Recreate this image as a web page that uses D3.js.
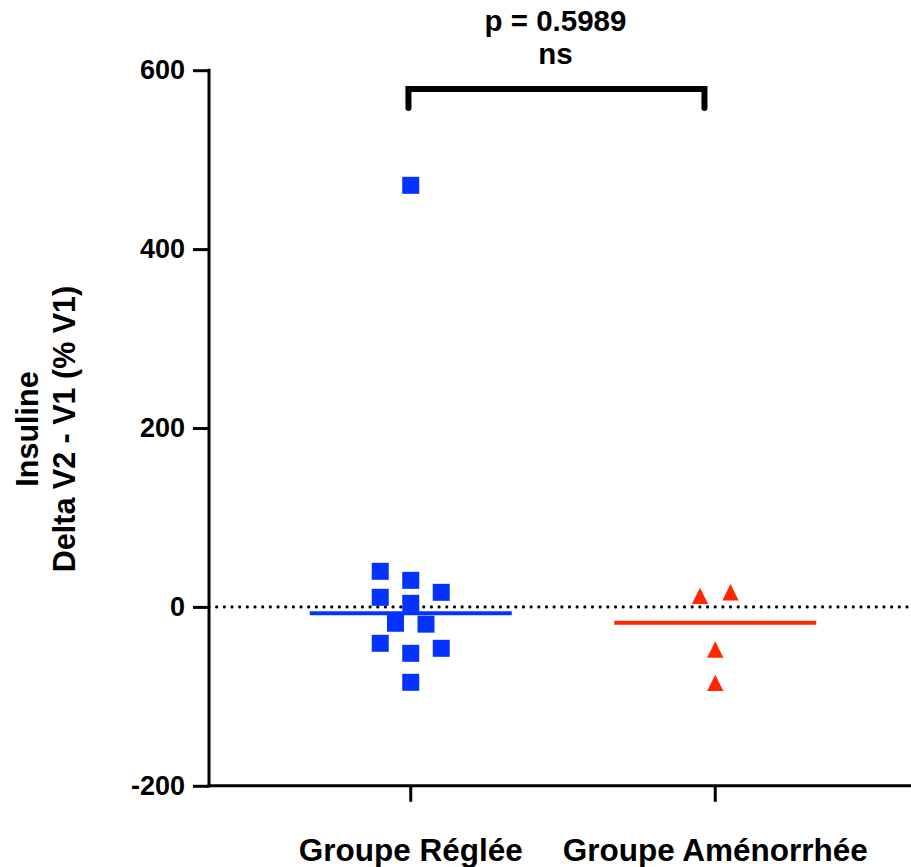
<!DOCTYPE html>
<html>
<head>
<meta charset="utf-8">
<script src="https://cdn.jsdelivr.net/npm/d3@7"></script>
<style>
  html, body { margin: 0; padding: 0; background: #fff; }
  svg { display: block; }
  text { font-family: "Liberation Sans", Arial, Helvetica, sans-serif; font-weight: bold; fill: #000; }
</style>
</head>
<body>
<svg id="chart" width="911" height="867"></svg>
<script>
// Insulin change between visits, % of V1, per group
const categories = ["Groupe Réglée", "Groupe Aménorrhée"];
const regleeValues = [29.7, 4.0, -51.9, -84.3, -18.3, -19.3, 39.8, 16.3, 10.7, -40.7, -46.3, 471.3];
const amenorrheeValues = [16.4, 12.4, -47.6, -84.9];
const yTicks = [-200, 0, 200, 400, 600];
const pValue = 0.5989;
const significance = "ns";
const yLabelLines = ["Insuline", "Delta V2 - V1 (% V1)"];

const groups = [
  { name: categories[0], values: regleeValues, color: "#0433ff", shape: "square" },
  { name: categories[1], values: amenorrheeValues, color: "#ff2600", shape: "triangle" }
];

const W = 911, H = 867;
const axisLeft = 209, plotTop = 70.2, plotBottom = 785.8;

const svg = d3.select("#chart");

const y = d3.scaleLinear().domain([-200, 600]).range([plotBottom, plotTop]);
const x = d3.scaleBand().domain(categories).range([258.5, 867.5]);
const cx = c => x(c) + x.bandwidth() / 2;

// Zero reference line (dotted)
svg.append("line")
  .attr("x1", axisLeft).attr("x2", W)
  .attr("y1", y(0)).attr("y2", y(0))
  .attr("stroke", "#000").attr("stroke-width", 3.2)
  .attr("stroke-linecap", "round")
  .attr("stroke-dasharray", "0 7.67");

// Y axis (plain hyphen for negative numbers)
const yAxis = svg.append("g")
  .attr("transform", `translate(${axisLeft},0)`)
  .call(d3.axisLeft(y).tickValues(yTicks).tickSize(16).tickPadding(8).tickFormat(d => String(d)));
yAxis.select(".domain").remove();
yAxis.selectAll(".tick line").attr("stroke", "#000").attr("stroke-width", 3);
yAxis.selectAll(".tick text").style("font-size", "27px").attr("fill", "#000");
yAxis.append("line")
  .attr("x1", 0).attr("x2", 0)
  .attr("y1", plotTop - 1.5).attr("y2", plotBottom + 1.5)
  .attr("stroke", "#000").attr("stroke-width", 3);

// X axis
const xAxis = svg.append("g")
  .attr("transform", `translate(0,${plotBottom})`)
  .call(d3.axisBottom(x).tickSize(16).tickFormat(""));
xAxis.select(".domain").remove();
xAxis.selectAll(".tick line").attr("stroke", "#000").attr("stroke-width", 3);
xAxis.append("line")
  .attr("x1", axisLeft - 1.5).attr("x2", W)
  .attr("y1", 0).attr("y2", 0)
  .attr("stroke", "#000").attr("stroke-width", 3);

// Category labels
svg.selectAll(".cat-label")
  .data(categories)
  .join("text")
  .attr("class", "cat-label")
  .attr("x", d => cx(d))
  .attr("y", 861)
  .attr("text-anchor", "middle")
  .style("font-size", "31.5px")
  .text(d => d);

// Y axis title (two lines, rotated)
const yTitle = svg.append("text")
  .attr("transform", `translate(38,429) rotate(-90)`)
  .attr("text-anchor", "middle")
  .style("font-size", "30.5px");
yLabelLines.forEach((line, i) => {
  yTitle.append("tspan").attr("x", 0).attr("dy", i === 0 ? 0 : 37).text(line);
});

// Scatter layout: place each point in the nearest free slot, then centre each vertical cluster
const slot = 15.25, minDist = 22;
function layout(values) {
  const placed = [];
  const offsets = [0];
  for (let k = 1; k <= 6; k++) offsets.push(-k * slot, k * slot);
  values.forEach(v => {
    const py = y(v);
    for (const off of offsets) {
      if (placed.every(p => Math.hypot(p.dx - off, p.py - py) >= minDist)) {
        placed.push({ v, py, dx: off });
        break;
      }
    }
  });
  const sorted = placed.slice().sort((a, b) => a.py - b.py);
  let cluster = [];
  const flush = () => {
    if (!cluster.length) return;
    const shift = -(d3.min(cluster, p => p.dx) + d3.max(cluster, p => p.dx)) / 2;
    cluster.forEach(p => p.dx += shift);
    cluster = [];
  };
  sorted.forEach((p, i) => {
    if (i > 0 && p.py - sorted[i - 1].py >= minDist) flush();
    cluster.push(p);
  });
  flush();
  return placed;
}

const sq = 17, triW = 16.3, triH = 16.3;
const trianglePath = `M0,${-triH / 2}L${triW / 2},${triH / 2}L${-triW / 2},${triH / 2}Z`;

groups.forEach(g => {
  const centre = cx(g.name);
  const pts = layout(g.values);
  const layer = svg.append("g");

  // Median line
  const med = d3.median(g.values);
  layer.append("line")
    .attr("x1", centre - 101).attr("x2", centre + 101)
    .attr("y1", y(med)).attr("y2", y(med))
    .attr("stroke", g.color).attr("stroke-width", 4);

  if (g.shape === "square") {
    layer.selectAll("rect").data(pts).join("rect")
      .attr("x", d => centre + d.dx - sq / 2)
      .attr("y", d => d.py - sq / 2)
      .attr("width", sq).attr("height", sq)
      .attr("fill", g.color);
  } else {
    layer.selectAll("path").data(pts).join("path")
      .attr("d", trianglePath)
      .attr("transform", d => `translate(${centre + d.dx},${d.py})`)
      .attr("fill", g.color);
  }
});

// Significance bracket and annotation
const bx1 = cx(categories[0]) - 2.3, bx2 = cx(categories[1]) - 10.8;
svg.append("path")
  .attr("d", `M${bx1},108 V89 H${bx2} V108`)
  .attr("fill", "none").attr("stroke", "#000").attr("stroke-width", 6)
  .attr("stroke-linecap", "round").attr("stroke-linejoin", "miter");

const mid = (bx1 + bx2) / 2 - 1;
svg.append("text")
  .attr("x", mid).attr("y", 30.5)
  .attr("text-anchor", "middle")
  .style("font-size", "29.5px")
  .text(`p = ${pValue}`);
svg.append("text")
  .attr("x", mid).attr("y", 64)
  .attr("text-anchor", "middle")
  .style("font-size", "29.5px")
  .text(significance);
</script>
</body>
</html>
